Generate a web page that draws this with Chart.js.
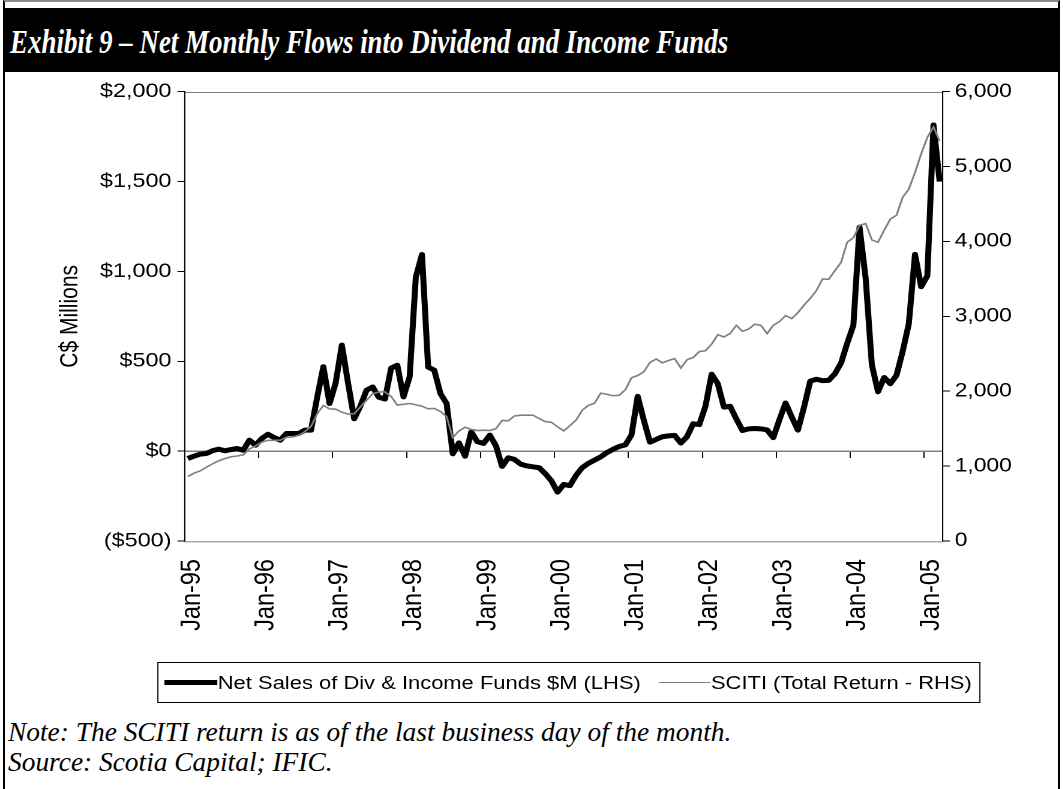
<!DOCTYPE html>
<html>
<head>
<meta charset="utf-8">
<title>Net Monthly Flows into Dividend and Income Funds</title>
<script src="https://cdn.jsdelivr.net/npm/chart.js@4.4.1/dist/chart.umd.min.js"></script>
<style>
  html, body { margin: 0; padding: 0; background: #fff; overflow: hidden; }
  #page { position: relative; width: 1063px; height: 789px; }
  #frame {
    position: absolute; left: 3px; top: 0; width: 1053px; height: 800px;
    border-left: 2px solid #000; border-right: 2px solid #000; border-top: 2px solid #8c8c8c;
  }
  #titleBar { position: absolute; left: 4px; top: 8px; width: 1056px; height: 64px; background: #000; }
  #title {
    position: absolute; left: 10px; top: 25px; white-space: nowrap;
    font: italic bold 34px/1 "Liberation Serif", "Times New Roman", serif; color: #fff;
    transform-origin: 0 0;
  }
  #chartWrap {
    position: absolute; left: 0; top: 75px; width: 886px; height: 640px;
    transform: scaleX(1.2); transform-origin: 0 0;
  }
  #legend {
    position: absolute; left: 130.8px; top: 587px; width: 685.9px; height: 41px;
    box-sizing: border-box; border: 1px solid #000; padding-left: 5.7px;
    display: flex; align-items: center; white-space: nowrap;
    font: 18.3px "Liberation Sans", Arial, sans-serif; color: #000;
  }
  #legend .sample { display: inline-block; }
  #notes {
    position: absolute; left: 8px; top: 717px;
    font: italic 27.4px/30px "Liberation Serif", "Times New Roman", serif; color: #000;
  }
</style>
</head>
<body>
<div id="page">
  <div id="frame"></div>
  <div id="titleBar"></div>
  <div id="title">Exhibit 9 – Net Monthly Flows into Dividend and Income Funds</div>
  <div id="chartWrap">
    <canvas id="flowChart" width="886" height="575"></canvas>
    <div id="legend"></div>
  </div>
  <div id="notes">Note: The SCITI return is as of the last business day of the month.<br>Source: Scotia Capital; IFIC.</div>
</div>
<script>
// monthly net sales, C$ millions, Jan-95 .. Mar-05
const netSales = [
  -41, -28, -17, -13, 2, 11, 2, 9, 15, 5, 61, 33,
  70, 94, 76, 61, 98, 98, 98, 117, 117, 300, 470, 265,
  380, 590, 380, 180, 250, 339, 357, 300, 290, 462, 478, 302,
  413, 968, 1094, 468, 450, 320, 265, -15, 46, -28, 107, 52,
  43, 89, 30, -85, -37, -46, -72, -82, -87, -92, -125, -165,
  -228, -185, -192, -135, -92, -68, -50, -32, -8, 10, 26, 35,
  90, 305, 172, 50, 65, 80, 85, 88, 45, 80, 152, 148,
  250, 428, 375, 245, 250, 180, 115, 124, 126, 124, 118, 75,
  175, 268, 190, 117, 246, 390, 400, 392, 394, 430, 490, 600,
  700, 1246, 960, 480, 330, 410, 375, 422, 555, 710, 1095, 915,
  975, 1815, 1500
];

// SCITI total return index, month end
const sciti = [
  860, 905, 935, 985, 1030, 1070, 1100, 1125, 1135, 1150, 1230, 1270,
  1320, 1345, 1345, 1345, 1385, 1390, 1410, 1460, 1530, 1700, 1810, 1765,
  1760, 1720, 1695, 1700, 1790, 1880, 1965, 1990, 1990, 1930, 1815, 1825,
  1836, 1820, 1800, 1765, 1770, 1730, 1660, 1380, 1470, 1520, 1490, 1475,
  1480, 1475, 1500, 1610, 1605, 1670, 1680, 1680, 1680, 1636, 1595, 1585,
  1525, 1470, 1540, 1615, 1745, 1810, 1840, 1975, 1960, 1940, 1945, 2020,
  2180, 2210, 2260, 2385, 2430, 2380, 2410, 2435, 2310, 2420, 2450, 2530,
  2540, 2630, 2755, 2725, 2770, 2880, 2800, 2830, 2895, 2880, 2770, 2880,
  2930, 3010, 2970, 3050, 3150, 3240, 3345, 3500, 3495, 3610, 3720, 3990,
  4050, 4215, 4240, 4020, 3990, 4150, 4300, 4350, 4590, 4700, 4920, 5170,
  5390, 5530, 5340
];

const monthNames = ['Jan', 'Feb', 'Mar', 'Apr', 'May', 'Jun', 'Jul', 'Aug', 'Sep', 'Oct', 'Nov', 'Dec'];
const months = [];
for (let i = 0; i < netSales.length; i++) {
  const yr = (95 + Math.floor(i / 12)) % 100;
  months.push(monthNames[i % 12] + '-' + String(yr).padStart(2, '0'));
}

const leftTicks = [-500, 0, 500, 1000, 1500, 2000];
const rightTicks = [0, 1000, 2000, 3000, 4000, 5000, 6000];

const sans = '"Liberation Sans", Arial, sans-serif';

// grey border round the plot area, drawn before the axes
const plotFrame = {
  id: 'plotFrame',
  beforeDraw(chart, args, opts) {
    const { ctx, chartArea: a } = chart;
    ctx.save();
    ctx.strokeStyle = opts.color;
    ctx.lineWidth = 1;
    ctx.strokeRect(a.left, Math.round(a.top) + 0.5, a.right - a.left, a.bottom - a.top);
    ctx.restore();
  }
};

function fmtDollars(v) {
  const s = '$' + Math.abs(v).toLocaleString('en-US');
  return v < 0 ? '(' + s + ')' : s;
}

const ctx1 = document.getElementById('flowChart').getContext('2d');
const flowChart = new Chart(ctx1, {
  type: 'line',
  data: {
    labels: months,
    datasets: [
      {
        label: 'Net Sales of Div & Income Funds $M (LHS)',
        data: netSales,
        borderColor: '#000000',
        borderWidth: 5,
        borderJoinStyle: 'round',
        pointRadius: 0,
        tension: 0,
        yAxisID: 'y',
        order: 1
      },
      {
        label: 'SCITI (Total Return - RHS)',
        data: sciti,
        borderColor: '#808080',
        borderWidth: 1.6,
        pointRadius: 0,
        tension: 0,
        yAxisID: 'y1',
        order: 0
      }
    ]
  },
  plugins: [plotFrame],
  options: {
    responsive: false,
    animation: false,
    devicePixelRatio: 2,
    layout: { padding: { top: 14, left: 0, right: 0, bottom: 0 } },
    plugins: {
      legend: { display: false },
      tooltip: { enabled: false },
      plotFrame: { color: '#808080' }
    },
    scales: {
      x: {
        type: 'category',
        position: 'bottom',
        offset: true,
        grid: { display: false, drawTicks: false },
        border: { display: false },
        ticks: {
          autoSkip: false,
          minRotation: 90,
          maxRotation: 90,
          padding: 18,
          labelOffset: 3.3,
          color: '#000',
          font: { family: sans, size: 23.5 },
          callback: (v, i) => (i % 12 === 0 ? months[i] : '')
        },
        afterFit: (s) => { s.height = 109; }
      },
      // category axis crossing at $0, carries the year tick marks
      xZero: {
        type: 'category',
        axis: 'x',
        position: { y: 0 },
        offset: true,
        ticks: { display: false, autoSkip: false },
        grid: {
          offset: true,
          drawOnChartArea: false,
          drawTicks: true,
          tickLength: 6,
          color: (c) => (c.index > 0 && c.index % 12 === 0 ? '#000' : 'rgba(0,0,0,0)')
        },
        border: { display: true, color: '#808080', width: 1.5 }
      },
      y: {
        position: 'left',
        min: -500,
        max: 2000,
        afterBuildTicks: (s) => { s.ticks = leftTicks.map((v) => ({ value: v })); },
        ticks: {
          padding: 5,
          color: '#000',
          font: { family: sans, size: 19.5 },
          callback: (v) => fmtDollars(v)
        },
        grid: { drawOnChartArea: false, drawTicks: true, tickLength: 6, color: '#000' },
        border: { display: true, color: '#000', width: 1 },
        title: {
          display: true,
          text: 'C$ Millions',
          color: '#000',
          font: { family: sans, size: 21 },
          padding: { top: 46, bottom: 0 }
        },
        afterFit: (s) => { s.width = 153.9; }
      },
      y1: {
        position: 'right',
        min: 0,
        max: 6000,
        afterBuildTicks: (s) => { s.ticks = rightTicks.map((v) => ({ value: v })); },
        ticks: {
          padding: 4,
          color: '#000',
          font: { family: sans, size: 19 },
          callback: (v) => v.toLocaleString('en-US')
        },
        grid: { drawOnChartArea: false, drawTicks: true, tickLength: 6, color: '#000' },
        border: { display: true, color: '#000', width: 1 },
        afterFit: (s) => { s.width = 100.4; }
      }
    }
  }
});

// boxed legend under the chart, built from the datasets
const legendEl = document.getElementById('legend');
flowChart.data.datasets.forEach((ds, i) => {
  const sample = document.createElement('span');
  sample.className = 'sample';
  sample.style.width = (i === 0 ? 44 : 43) + 'px';
  sample.style.height = ds.borderWidth + 'px';
  sample.style.background = ds.borderColor;
  if (i > 0) sample.style.marginLeft = '15.4px';
  const text = document.createElement('span');
  text.textContent = ds.label;
  legendEl.appendChild(sample);
  legendEl.appendChild(text);
});

// title is set narrow to fit the bar
const titleEl = document.getElementById('title');
titleEl.style.transform = 'scaleX(' + (718 / titleEl.offsetWidth).toFixed(3) + ')';
</script>
</body>
</html>
